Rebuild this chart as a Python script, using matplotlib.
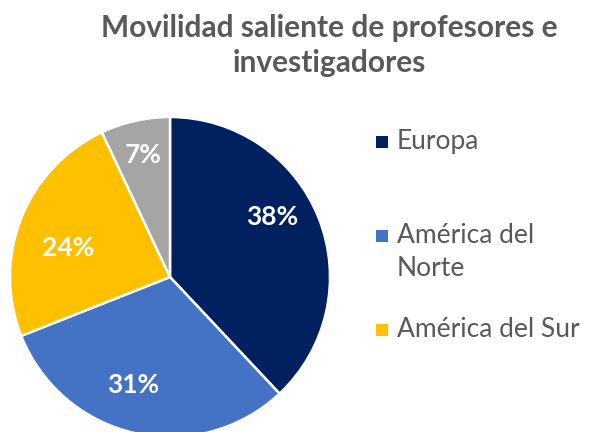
import matplotlib
matplotlib.use("Agg")
import matplotlib.pyplot as plt
from matplotlib.patches import Rectangle
from matplotlib.transforms import offset_copy

title = "Movilidad saliente de profesores e\ninvestigadores"
categories = ["Europa", "América del\nNorte", "América del Sur", "Otros"]
values = [38, 31, 24, 7]
colors = ["#002060", "#4472C4", "#FFC000", "#A5A5A5"]
legend_count = 3

plt.rcParams['font.family'] = ['Lato', 'DejaVu Sans']
text_color = "#595959"

W, H = 589, 432
fig = plt.figure(figsize=(W / 100, H / 100), dpi=100)

cx, cy, r = 170, 277, 160
ax = fig.add_axes([(cx - r) / W, (H - cy - r) / H, 2 * r / W, 2 * r / H])
wedges, texts, autotexts = ax.pie(
    values, colors=colors, startangle=90, counterclock=False, radius=1,
    autopct=lambda p: f"{p:.0f}%", pctdistance=0.72,
    wedgeprops=dict(edgecolor="white", linewidth=1.8),
    textprops=dict(color="white", fontsize=19, fontweight="bold"),
)
ax.set_xlim(-1, 1)
ax.set_ylim(-1, 1)
ax.set_aspect("equal")
ax.axis("off")

# small nudges (pixels: right, down) mimicking the original's label placement
label_nudge = [(-5, -18), (-12, -4), (5, 13), (-2, -10)]
for t, (dx, dy) in zip(autotexts, label_nudge):
    t.set_transform(offset_copy(ax.transData, fig=fig, x=dx, y=-dy, units="dots"))

# title, one text per line
for j, line in enumerate(title.split("\n")):
    fig.text(329 / W, 1 - (37 + 35 * j) / H, line, ha="center", va="baseline",
             fontsize=21.5, fontweight="bold", color=text_color)

# legend: entries evenly spaced, as in the original
leg_x, leg_y0, leg_step, box, line_px = 376, 142, 94, 12, 33
for i in range(legend_count):
    yc = leg_y0 + i * leg_step
    fig.patches.append(Rectangle((leg_x / W, 1 - (yc + box / 2) / H), box / W, box / H,
                                 transform=fig.transFigure, facecolor=colors[i],
                                 edgecolor="none"))
    for j, line in enumerate(categories[i].split("\n")):
        fig.text(397 / W, 1 - (yc + 7 + j * line_px) / H, line, ha="left",
                 va="baseline", fontsize=19, color=text_color)

fig.savefig("out.png", dpi=100)
